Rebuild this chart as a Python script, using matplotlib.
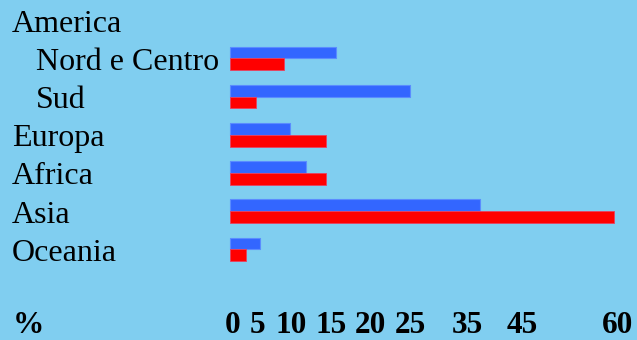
import matplotlib
matplotlib.use("Agg")
import matplotlib.pyplot as plt

# Row labels (indented rows are sub-regions of America)
regions = ["America", "Nord e Centro", "Sud", "Europa", "Africa", "Asia", "Oceania"]
indented = [False, True, True, False, False, False, False]
# Bar values in percent, one pair per region row (America header has none)
bar_regions = ["Nord e Centro", "Sud", "Europa", "Africa", "Asia", "Oceania"]
blue_values = [16.6, 28.1, 9.4, 11.8, 39.1, 4.6]
red_values = [8.4, 4.0, 15.0, 15.0, 60.0, 2.5]
# Scale labels along the bottom row
scale_labels = ["0", "5", "10", "15", "20", "25", "35", "45", "60"]
unit_label = "%"

# Where each scale label is centred along the value axis
scale_label_x = [0.4, 4.3, 9.5, 15.7, 21.9, 28.1, 37.0, 45.6, 60.6]

BG = "#80CEF0"
BLUE = "#3366FF"
RED = "#FF0000"
SERIF = ["Liberation Serif", "DejaVu Serif"]

fig = plt.figure(figsize=(6.37, 3.40), dpi=100, facecolor=BG)
ax = fig.add_axes([0, 0, 1, 1], facecolor=BG)
ax.set_xlim(-36.01, 63.6)
ax.set_ylim(8.39, -0.51)
ax.axis("off")

row_of = {name: i for i, name in enumerate(regions)}
bar_h = 0.31
ys = [row_of[r] for r in bar_regions]
ax.barh([y - bar_h / 2 + 0.02 for y in ys], blue_values, height=bar_h,
        color=BLUE, edgecolor="#5A8CFF", linewidth=0.8, left=0)
ax.barh([y + bar_h / 2 + 0.02 for y in ys], red_values, height=bar_h,
        color=RED, edgecolor="#E84060", linewidth=0.6, left=0)

for i, (name, ind) in enumerate(zip(regions, indented)):
    x = 36 / 637 if ind else 12 / 637
    ax.text(x, i + 0.03, name, transform=ax.get_yaxis_transform(), ha="left",
            va="center_baseline", fontsize=23, family=SERIF, color="black")

ax.text(13 / 637, 7.93, unit_label, transform=ax.get_yaxis_transform(), ha="left",
        va="center_baseline", fontsize=22.5, family=SERIF, weight="bold")
for lab, xv in zip(scale_labels, scale_label_x):
    ax.text(xv, 7.93, lab, ha="center", va="center_baseline",
            fontsize=22.5, family=SERIF, weight="bold")

fig.savefig("out.png", dpi=100, facecolor=BG)
